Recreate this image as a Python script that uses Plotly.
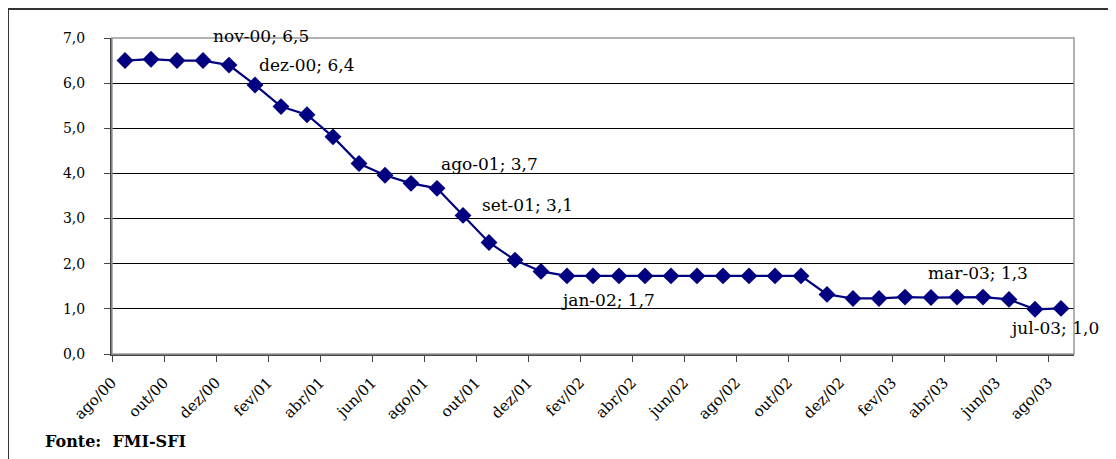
import plotly.graph_objects as go

months = ["ago/00", "set/00", "out/00", "nov/00", "dez/00",
          "jan/01", "fev/01", "mar/01", "abr/01", "mai/01", "jun/01", "jul/01", "ago/01", "set/01", "out/01", "nov/01", "dez/01",
          "jan/02", "fev/02", "mar/02", "abr/02", "mai/02", "jun/02", "jul/02", "ago/02", "set/02", "out/02", "nov/02", "dez/02",
          "jan/03", "fev/03", "mar/03", "abr/03", "mai/03", "jun/03", "jul/03", "ago/03"]
values = [6.50, 6.53, 6.50, 6.50, 6.40,
          5.96, 5.48, 5.30, 4.81, 4.22, 3.96, 3.78, 3.67, 3.07, 2.47, 2.08, 1.83,
          1.73, 1.73, 1.73, 1.73, 1.73, 1.73, 1.73, 1.73, 1.73, 1.73, 1.32, 1.23,
          1.23, 1.26, 1.25, 1.26, 1.26, 1.21, 0.99, 1.01]

label_idx = [3, 4, 12, 13, 17, 31, 35]
label_text = ["nov-00; 6,5", "dez-00; 6,4", "ago-01; 3,7", "set-01; 3,1",
              "jan-02; 1,7", "mar-03; 1,3", "jul-03; 1,0"]
label_shift = [(58, 25), (77, 0), (52, 24), (64, 10), (41, -24), (47, 25), (19, -19)]

W, H = 1116, 459
OX, OY = 8, 8  # page body offset
# desired plot area in window pixels
PL, PR, PT, PB = 112, 1074, 38, 354
ML, MT = PL - OX, PT - OY
pw, ph = PR - PL, PB - PT
MR = W - ML - pw
MB = H - MT - ph

def px(xp):
    return (xp - PL) / pw

def py(yp):
    return (PB - yp) / ph

xs = list(range(len(months)))
navy = "#000080"

fig = go.Figure()
fig.add_trace(go.Scatter(
    x=xs, y=values, mode="lines+markers",
    line=dict(color=navy, width=2.2),
    marker=dict(symbol="diamond", size=13, color=navy),
    hoverinfo="skip", showlegend=False, cliponaxis=False,
))

annotations = []
for i, t, (dx, dy) in zip(label_idx, label_text, label_shift):
    annotations.append(dict(
        x=i, y=values[i], xref="x", yref="y", text=t, showarrow=False,
        xshift=dx, yshift=dy, xanchor="center", yanchor="middle",
        font=dict(family="DejaVu Serif", size=17, color="black"),
    ))
annotations.append(dict(
    x=px(43), y=py(441), xref="paper", yref="paper", text="Fonte:\u00a0 FMI-SFI",
    showarrow=False, xanchor="left", yanchor="middle",
    font=dict(family="DejaVu Serif", size=16, color="black", weight="bold"),
))

shapes = [
    dict(type="rect", xref="paper", yref="paper", x0=0, y0=0, x1=1, y1=1,
         line=dict(color="#999999", width=1.5), layer="above"),
    dict(type="line", xref="paper", yref="paper", x0=px(8), y0=py(9), x1=px(W + 20), y1=py(9),
         line=dict(color="#333333", width=2)),
    dict(type="line", xref="paper", yref="paper", x0=px(8), y0=py(9), x1=px(8), y1=py(H + 20),
         line=dict(color="#333333", width=2)),
]

tick_idx = list(range(0, len(months), 2))
fig.update_layout(
    width=W, height=H,
    margin=dict(l=ML, r=MR, t=MT, b=MB),
    paper_bgcolor="white", plot_bgcolor="white",
    separators=",.",
    annotations=annotations, shapes=shapes,
    xaxis=dict(
        range=[-0.5, len(months) - 0.5],
        tickvals=[i - 0.5 for i in tick_idx],
        ticktext=[months[i] for i in tick_idx],
        tickangle=-45, ticks="outside", ticklen=6, tickcolor="#444444",
        ticklabelstandoff=6,
        showgrid=False, zeroline=False,
        showline=True, linecolor="#444444", linewidth=2,
        tickfont=dict(family="DejaVu Serif", size=15, color="black"),
    ),
    yaxis=dict(
        range=[0, 7], tickvals=[0, 1, 2, 3, 4, 5, 6, 7], tickformat=".1f",
        ticks="outside", ticklen=6, tickcolor="#444444",
        ticklabelstandoff=16,
        showgrid=True, gridcolor="black", gridwidth=1, zeroline=False,
        showline=True, linecolor="#444444", linewidth=2,
        tickfont=dict(family="DejaVu Serif", size=14, color="black"),
    ),
)

fig.write_html("out.html")
